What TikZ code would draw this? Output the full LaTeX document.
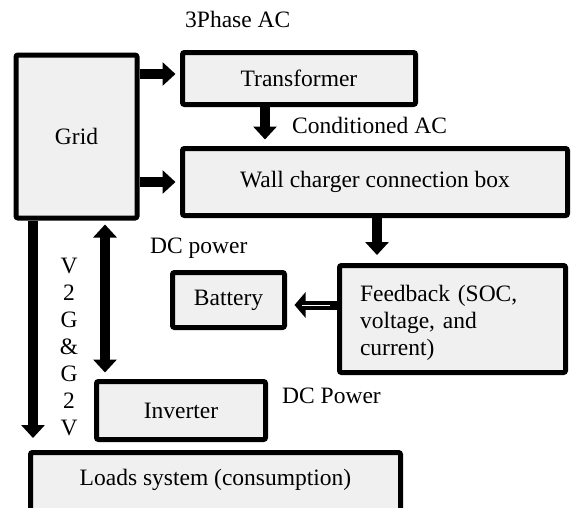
\documentclass[tikz,border=0pt]{standalone}
\usepackage{fontspec}
\setmainfont{Liberation Serif}
\usetikzlibrary{arrows.meta}
\definecolor{boxgray}{HTML}{F0F0F0}
\begin{document}
\begin{tikzpicture}[x=1pt,y=-1pt,
  font=\fontsize{23.5}{27}\selectfont,
  block/.style={draw, line width=5pt, fill=boxgray, rounded corners=2pt, inner sep=0pt, align=center},
  fatarrow/.style={line width=10pt, -{Triangle[width=23pt,length=13pt]}},
  twoway/.style={line width=10pt, {Triangle[width=23pt,length=13pt]}-{Triangle[width=23pt,length=13pt]}},
  openarrow/.style={line width=9pt, -{Triangle[width=25pt,length=11pt]}},
  lbl/.style={anchor=base west, inner sep=0pt}]
\clip (0,0) rectangle (571,507);
% boxes
\node[block, minimum width=121pt, minimum height=163pt] (grid) at (76.5,136.5) {Grid};
\node[block, minimum width=233pt, minimum height=52pt] (trans) at (299,78.5) {Transformer};
\node[block, minimum width=385pt, minimum height=67pt] (wall) at (375,182) {Wall charger connection box};
\node[block, minimum width=112pt, minimum height=55pt] (bat) at (228.5,300) {Battery};
\node[block, minimum width=226pt, minimum height=107pt, text width=185pt, align=left] (fb) at (452.5,319) {\rule{0pt}{24pt}Feedback (SOC,\\voltage, and\\current)};
\node[block, minimum width=169pt, minimum height=58pt] (inv) at (181,410.5) {Inverter};
\node[block, minimum width=370pt, minimum height=65pt] (loads) at (215.5,485) {};
\node[anchor=base, inner sep=0pt] (loadstext) at (215.5,485) {Loads system (consumption)};
% labels
\node[lbl] (phase) at (185,27) {3Phase AC};
\node[lbl] (cond) at (292,133) {Conditioned AC};
\node[lbl] (dcin) at (150,253) {DC power};
\node[lbl] (dcout) at (282,403) {DC Power};
\node[anchor=north, inner sep=0pt, align=center] (v2g) at (69,257.6) {V\\2\\G\\\&\\G\\2\\V};
% arrows
\path ([yshift=4.5pt]trans.west) coordinate (transin);
\draw[fatarrow, shorten >=4.5pt] (grid.east |- transin) -- (transin);
\draw[fatarrow, shorten >=4.5pt] (grid.east |- wall.west) -- (wall.west);
\draw[fatarrow, shorten >=6.5pt] ([xshift=-34pt]trans.south) -- ([xshift=-34pt]trans.south |- wall.north);
\draw[fatarrow, shorten >=8pt] ([xshift=2pt]wall.south) -- ([xshift=2pt]wall.south |- fb.north);
\path ([yshift=-5pt]bat.east) coordinate (batin);
\draw[openarrow, shorten >=7.5pt] (fb.west |- batin) -- (batin);
\draw[white, line width=0.8pt] ([xshift=-7pt]fb.west |- batin) -- ([xshift=15pt]batin);
\draw[fatarrow, shorten >=12pt] ([xshift=-43.5pt]grid.south) -- ([xshift=-43.5pt]grid.south |- loads.north);
\draw[twoway, shorten <=4pt, shorten >=6.5pt] ([xshift=28.5pt]grid.south) -- ([xshift=28.5pt]grid.south |- inv.north);
\end{tikzpicture}
\end{document}
